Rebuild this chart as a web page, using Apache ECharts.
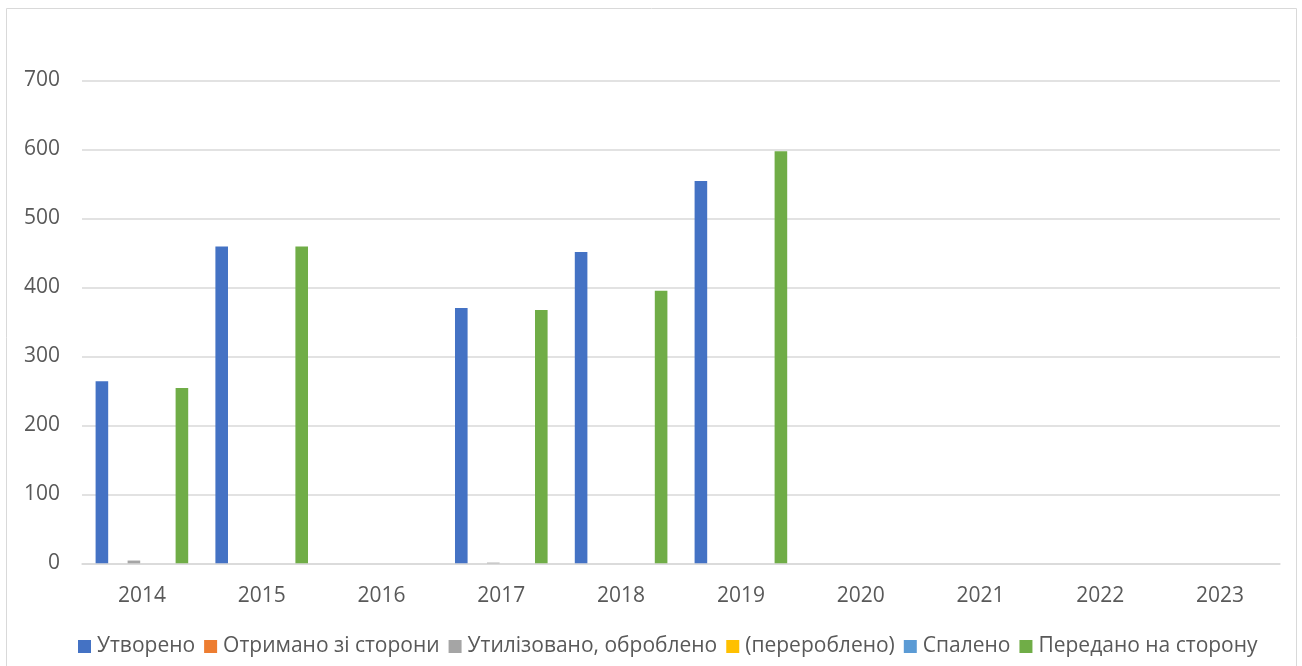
<!DOCTYPE html>
<html>
<head>
<meta charset="utf-8">
<script src="https://cdn.jsdelivr.net/npm/echarts@6/dist/echarts.min.js"></script>
<style>
html,body{margin:0;padding:0;background:#fff;}
#c{width:1302px;height:666px;}
</style>
</head>
<body>
<div id="c"></div>
<script>
const years = ['2014','2015','2016','2017','2018','2019','2020','2021','2022','2023'];
const seriesNames = ['Утворено','Отримано зі сторони','Утилізовано, оброблено','(перероблено)','Спалено','Передано на сторону'];
const utvoreno   = [264, 459, 0, 370, 451, 554, 0, 0, 0, 0];
const otrymano   = [0, 0, 0, 0, 0, 0, 0, 0, 0, 0];
const utylizovano= [4, 0, 0, 1, 0, 0, 0, 0, 0, 0];
const pererobleno= [0, 0, 0, 0, 0, 0, 0, 0, 0, 0];
const spaleno    = [0, 0, 0, 0, 0, 0, 0, 0, 0, 0];
const peredano   = [254, 459, 0, 367, 395, 597, 0, 0, 0, 0];
const yTicks = [0, 100, 200, 300, 400, 500, 600, 700];

const colors = ['#4472C4','#ED7D31','#A5A5A5','#FFC000','#5B9BD5','#70AD47'];
const values = [utvoreno, otrymano, utylizovano, pererobleno, spaleno, peredano];
const font = 'Open Sans, Noto Sans, sans-serif';

const chart = echarts.init(document.getElementById('c'), null, {renderer:'canvas'});
chart.setOption({
  animation:false,
  color: colors,
  graphic:[{type:'rect', shape:{x:6.5,y:8.5,width:1290,height:700}, style:{fill:'none',stroke:'#d9d9d9',lineWidth:1}, silent:true, z:-1}],
  grid:{left:82, right:22, top:80.3, bottom:102.7, containLabel:false},
  legend:{
    bottom:4, left:73,
    itemWidth:13, itemHeight:13, itemGap:9,
    icon:'rect',
    textStyle:{color:'#595959', fontSize:21, fontFamily:font, padding:[0,0,0,1]},
    data: seriesNames
  },
  xAxis:{
    type:'category', data: years,
    axisLine:{lineStyle:{color:'#d9d9d9', width:1.5}},
    axisTick:{show:false},
    axisLabel:{color:'#595959', fontSize:21, fontFamily:font, margin:22}
  },
  yAxis:{
    type:'value', min:yTicks[0], max:yTicks[yTicks.length-1], interval:100,
    axisLine:{show:false}, axisTick:{show:false},
    splitLine:{lineStyle:{color:'#d9d9d9', width:1.5}},
    axisLabel:{color:'#595959', fontSize:21, fontFamily:font, margin:22}
  },
  series: seriesNames.map((n,i)=>({
    name:n, type:'bar', data: values[i], barWidth:12.6, barGap:'27%'
  }))
});
</script>
</body>
</html>
